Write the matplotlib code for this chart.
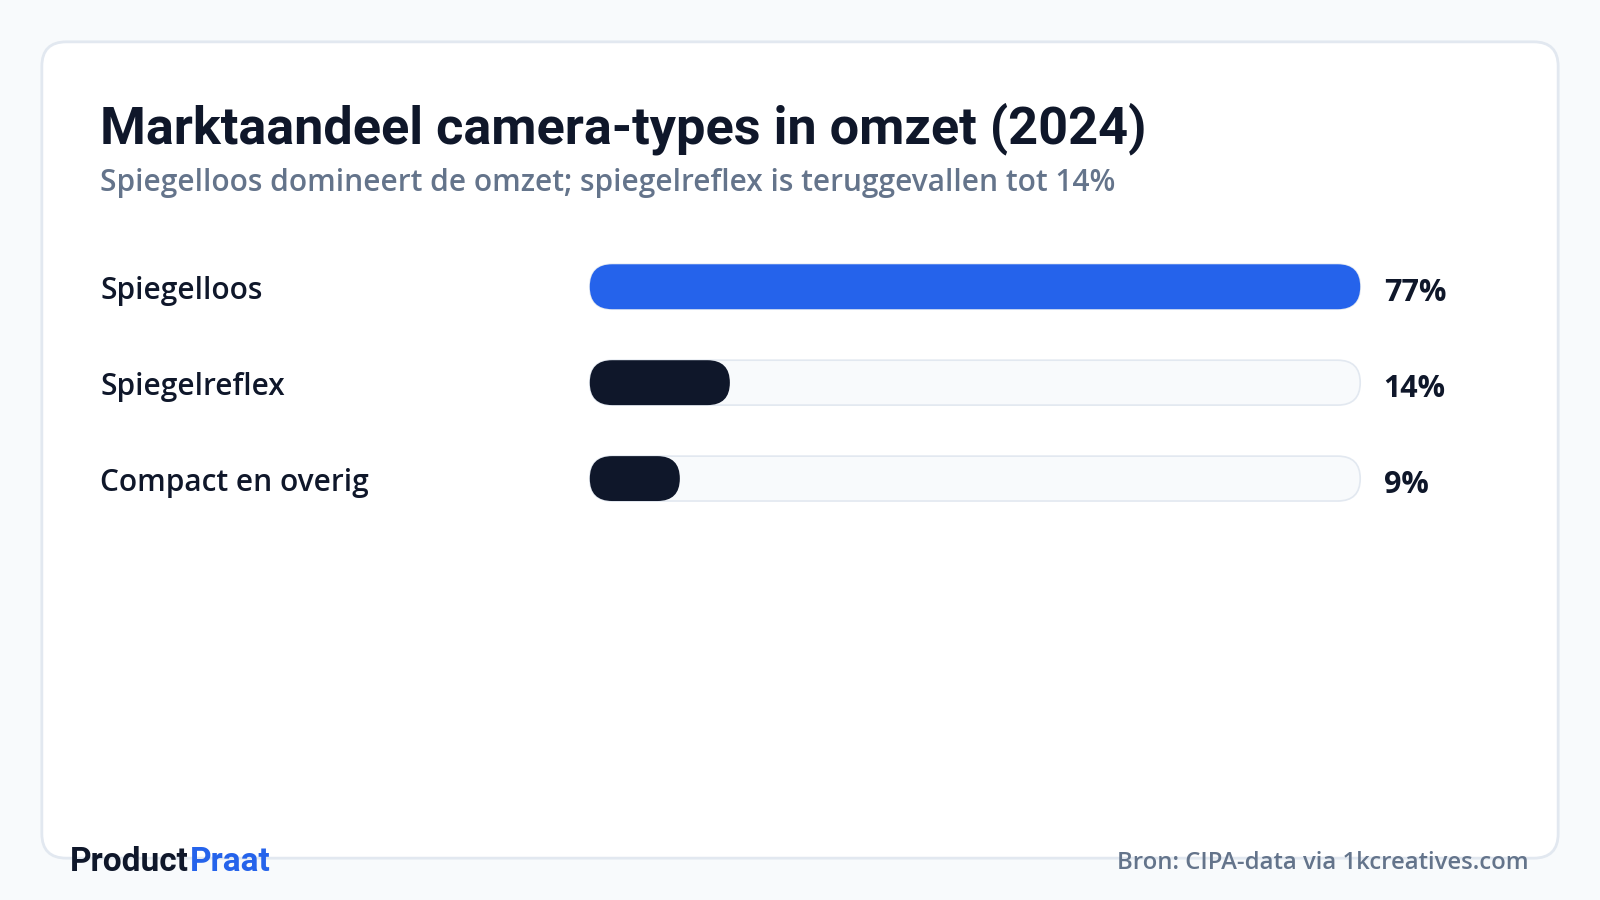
import matplotlib.pyplot as plt
from matplotlib.patches import FancyBboxPatch

categories = ["Spiegelloos", "Spiegelreflex", "Compact en overig"]
values = [77, 14, 9]
bar_colors = ["#2563eb", "#0f172a", "#0f172a"]

title = "Marktaandeel camera-types in omzet (2024)"
subtitle = "Spiegelloos domineert de omzet; spiegelreflex is teruggevallen tot 14%"
source = "Bron: CIPA-data via 1kcreatives.com"

W, H = 1568, 882
fig = plt.figure(figsize=(16, 9), dpi=100, facecolor="#f8fafc")
ax = fig.add_axes([0, 0, 1, 1])
ax.set_xlim(0, W)
ax.set_ylim(H, 0)
ax.axis("off")

# card
ax.add_patch(FancyBboxPatch((41, 41), 1486, 800, boxstyle="round,pad=0,rounding_size=24",
                            fc="white", ec="#e2e8f0", lw=2))

ax.text(98, 126, title, fontsize=37.6, fontweight="bold", family="Roboto",
        color="#0f172a", va="center")
ax.text(98, 179, subtitle, fontsize=21.5, fontweight="semibold", family="Open Sans",
        color="#64748b", va="center")

x0, x1 = 578, 1333
bh = 44
vmax = max(values)
for i, (cat, v, c) in enumerate(zip(categories, values, bar_colors)):
    y = 281 + i * 94
    ax.text(98, y + 4, cat, fontsize=21.5, fontweight="semibold", family="Open Sans",
            color="#0f172a", va="center")
    ax.add_patch(FancyBboxPatch((x0, y - bh / 2), x1 - x0, bh,
                                boxstyle="round,pad=0,rounding_size=22",
                                fc="#f8fafc", ec="#e2e8f0", lw=1.2))
    w = (x1 - x0) * v / vmax
    ax.add_patch(FancyBboxPatch((x0, y - bh / 2), w, bh,
                                boxstyle="round,pad=0,rounding_size=22",
                                fc=c, ec="none"))
    ax.text(1356, y + 6, f"{v}%", fontsize=22, fontweight="bold", family="Open Sans",
            color="#0f172a", va="center")

ax.text(68, 845, "Product", fontsize=24, fontweight="bold", family="Roboto",
        color="#0f172a", va="center")
ax.text(186, 845, "Praat", fontsize=24, fontweight="bold", family="Roboto",
        color="#2563eb", va="center")
ax.text(1498, 846, source, fontsize=17.2, fontweight="semibold", family="Open Sans",
        color="#64748b", va="center", ha="right")

fig.savefig("out.png", dpi=100, facecolor=fig.get_facecolor())
